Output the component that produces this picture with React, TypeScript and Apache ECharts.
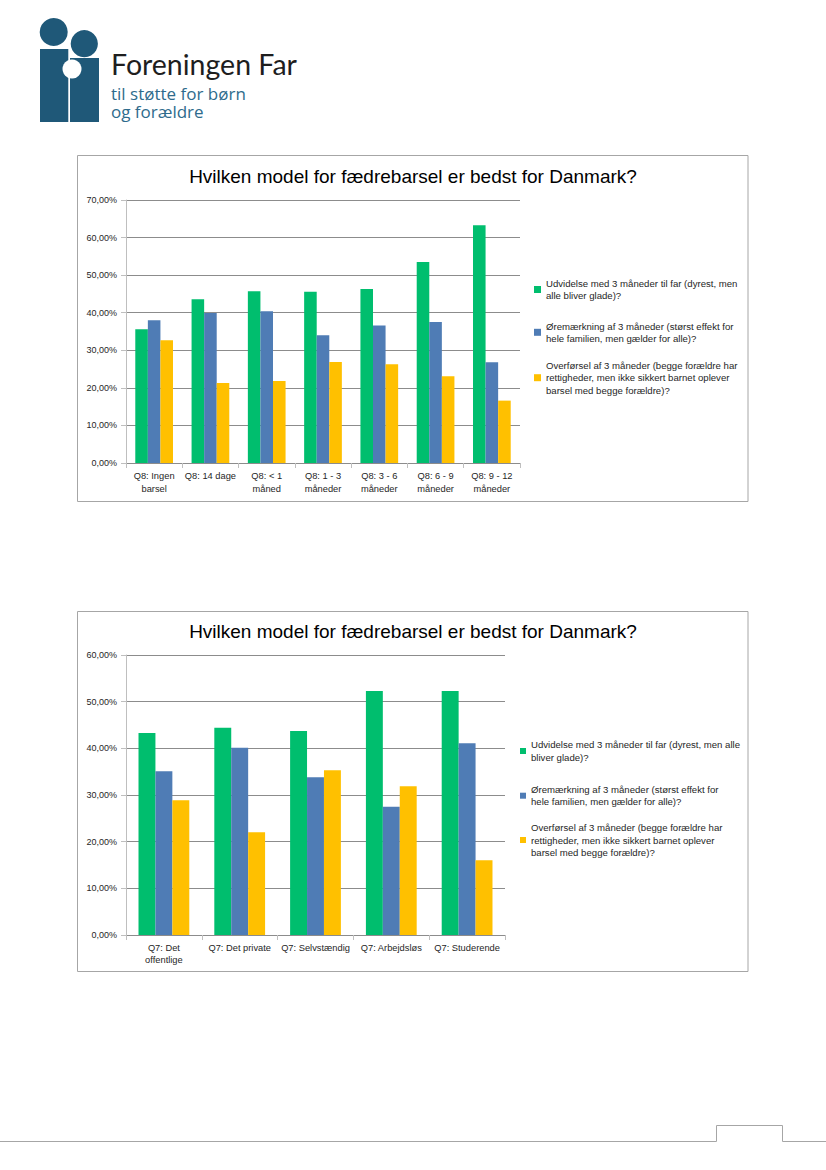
import React, { useEffect, useRef } from "react";
import * as echarts from "echarts";

const chartTitle = "Hvilken model for fædrebarsel er bedst for Danmark?";

const seriesNames = [
  "Udvidelse med 3 måneder til far (dyrest, men alle bliver glade)?",
  "Øremærkning af 3 måneder (størst effekt for hele familien, men gælder for alle)?",
  "Overførsel af 3 måneder (begge forældre har rettigheder, men ikke sikkert barnet oplever barsel med begge forældre)?",
];
const legendLines1 = [
  "Udvidelse med 3 måneder til far (dyrest, men\nalle bliver glade)?",
  "Øremærkning af 3 måneder (størst effekt for\nhele familien, men gælder for alle)?",
  "Overførsel af 3 måneder (begge forældre har\nrettigheder, men ikke sikkert barnet oplever\nbarsel med begge forældre)?",
];
const legendLines2 = [
  "Udvidelse med 3 måneder til far (dyrest, men alle\nbliver glade)?",
  "Øremærkning af 3 måneder (størst effekt for\nhele familien, men gælder for alle)?",
  "Overførsel af 3 måneder (begge forældre har\nrettigheder, men ikke sikkert barnet oplever\nbarsel med begge forældre)?",
];
const seriesColors = ["#00BE6E", "#4F7CB5", "#FFC000"];

// Chart 1: Q8
const categories1 = [
  "Q8: Ingen\nbarsel",
  "Q8: 14 dage",
  "Q8: < 1\nmåned",
  "Q8: 1 - 3\nmåneder",
  "Q8: 3 - 6\nmåneder",
  "Q8: 6 - 9\nmåneder",
  "Q8: 9 - 12\nmåneder",
];
const udvidelse1 = [35.6, 43.6, 45.7, 45.6, 46.3, 53.5, 63.3];
const oremaerkning1 = [38.0, 39.9, 40.4, 34.0, 36.6, 37.5, 26.8];
const overforsel1 = [32.7, 21.3, 21.8, 26.9, 26.3, 23.1, 16.6];
const yMax1 = 70;

// Chart 2: Q7
const categories2 = [
  "Q7: Det\noffentlige",
  "Q7: Det private",
  "Q7: Selvstændig",
  "Q7: Arbejdsløs",
  "Q7: Studerende",
];
const udvidelse2 = [43.3, 44.4, 43.7, 52.3, 52.3];
const oremaerkning2 = [35.1, 40.1, 33.8, 27.5, 41.1];
const overforsel2 = [28.9, 22.0, 35.3, 31.9, 16.0];
const yMax2 = 60;
const yStep = 10;

const logoTitle = "Foreningen Far";
const logoSub1 = "til støtte for børn";
const logoSub2 = "og forældre";

const FONT = "Liberation Sans, Arial, sans-serif";
const LOGO_FONT = "Lato, sans-serif";
const SUB_FONT = "Open Sans, sans-serif";
const LOGO_DARK = "#1F5878";
const TXT = "#262626";
const BORDER = "#A6A6A6";

function pctLabel(v: number) {
  return v.toFixed(2).replace(".", ",") + "%";
}

export default function App() {
  const ref = useRef<HTMLDivElement>(null);

  useEffect(() => {
    if (!ref.current) return;
    const chart = echarts.init(ref.current, null, { renderer: "svg" });

    const lh = 12.6;
    const legendDefs = [
      { lines: legendLines1, left: 534, firstY: [289.5, 332.3, 377.7], iw: 7 },
      { lines: legendLines2, left: 520, firstY: [751, 795.7, 840], iw: 6 },
    ];
    const legends: any[] = [];
    legendDefs.forEach((def) => {
      def.lines.forEach((txt, i) => {
        const n = txt.split("\n").length;
        legends.push({
          data: [seriesNames[i]],
          orient: "vertical",
          left: def.left,
          top: def.firstY[i] - ((2 * n - 1) * lh) / 2,
          padding: 0,
          itemWidth: def.iw,
          itemHeight: def.iw,
          icon: "rect",
          selectedMode: false,
          formatter: () => txt,
          textStyle: {
            fontFamily: FONT,
            fontSize: 9.6,
            lineHeight: lh,
            color: TXT,
            padding: [(n - 1) * lh, 0, 0, 0],
          },
        });
      });
    });

    const yAxisBase = (gridIndex: number, max: number) => ({
      type: "value",
      gridIndex,
      min: 0,
      max,
      interval: yStep,
      axisLine: { show: true, lineStyle: { color: "#BFBFBF", width: 1 } },
      axisTick: { show: true, length: 5, lineStyle: { color: "#BFBFBF" } },
      splitLine: { show: true, lineStyle: { color: "#8C8C8C", width: 1 } },
      axisLabel: {
        formatter: (v: number) => pctLabel(v),
        fontFamily: FONT,
        fontSize: 9,
        color: TXT,
        margin: 9,
      },
    });
    const xAxisBase = (gridIndex: number, data: string[], margin: number) => ({
      type: "category",
      gridIndex,
      data,
      axisLine: { show: true, lineStyle: { color: "#8C8C8C", width: 1 } },
      axisTick: { show: true, length: 5, lineStyle: { color: "#BFBFBF" } },
      axisLabel: {
        interval: 0,
        fontFamily: FONT,
        fontSize: 9.3,
        lineHeight: lh,
        color: TXT,
        margin,
      },
    });

    const barSeries = (idx: number, data: number[], axis: number) => ({
      type: "bar",
      name: seriesNames[idx],
      xAxisIndex: axis,
      yAxisIndex: axis,
      data,
      barGap: "0%",
      barCategoryGap: "33%",
      itemStyle: { color: seriesColors[idx] },
      emphasis: { disabled: true },
    });

    const option: any = {
      animation: false,
      color: seriesColors,
      title: [
        {
          text: chartTitle,
          left: 413,
          textAlign: "center",
          top: 167,
          padding: 0,
          textStyle: { fontFamily: FONT, fontSize: 19, fontWeight: "normal", color: "#000" },
        },
        {
          text: chartTitle,
          left: 413,
          textAlign: "center",
          top: 622,
          padding: 0,
          textStyle: { fontFamily: FONT, fontSize: 19, fontWeight: "normal", color: "#000" },
        },
      ],
      legend: legends,
      grid: [
        { left: 126, top: 200, width: 394, height: 263 },
        { left: 126, top: 655, width: 379, height: 280 },
      ],
      xAxis: [xAxisBase(0, categories1, 7), xAxisBase(1, categories2, 6.5)],
      yAxis: [yAxisBase(0, yMax1), yAxisBase(1, yMax2)],
      series: [
        barSeries(0, udvidelse1, 0),
        barSeries(1, oremaerkning1, 0),
        barSeries(2, overforsel1, 0),
        barSeries(0, udvidelse2, 1),
        barSeries(1, oremaerkning2, 1),
        barSeries(2, overforsel2, 1),
      ],
      graphic: [
        // chart frames
        {
          type: "rect",
          shape: { x: 77.5, y: 155.5, width: 670.5, height: 346 },
          style: { fill: "none", stroke: BORDER, lineWidth: 1 },
          silent: true,
        },
        {
          type: "rect",
          shape: { x: 77.5, y: 611.5, width: 670.5, height: 360 },
          style: { fill: "none", stroke: BORDER, lineWidth: 1 },
          silent: true,
        },
        // footer line with page tab
        {
          type: "polyline",
          shape: {
            points: [
              [0, 1141.5],
              [716.5, 1141.5],
              [716.5, 1125.5],
              [782.5, 1125.5],
              [782.5, 1141.5],
              [826, 1141.5],
            ],
          },
          style: { fill: "none", stroke: BORDER, lineWidth: 1 },
          silent: true,
        },
        // logo
        { type: "circle", shape: { cx: 53.7, cy: 32, r: 14 }, style: { fill: LOGO_DARK }, silent: true },
        { type: "circle", shape: { cx: 84.3, cy: 43.7, r: 13.6 }, style: { fill: LOGO_DARK }, silent: true },
        { type: "rect", shape: { x: 40, y: 49, width: 28.3, height: 73 }, style: { fill: LOGO_DARK }, silent: true },
        { type: "rect", shape: { x: 70, y: 58, width: 29, height: 64 }, style: { fill: LOGO_DARK }, silent: true },
        { type: "circle", shape: { cx: 72, cy: 69, r: 9.5 }, style: { fill: "#fff" }, silent: true },
        {
          type: "text",
          left: 111,
          top: 49,
          style: { text: logoTitle, fontFamily: LOGO_FONT, fontSize: 28.5, fill: "#1E1E1E" },
          silent: true,
        },
        {
          type: "text",
          left: 111,
          top: 85,
          style: { text: logoSub1, fontFamily: SUB_FONT, fontSize: 17, fill: "#2E6B8C" },
          silent: true,
        },
        {
          type: "text",
          left: 111,
          top: 102.5,
          style: { text: logoSub2, fontFamily: SUB_FONT, fontSize: 17, fill: "#2E6B8C" },
          silent: true,
        },
      ],
    };

    chart.setOption(option);
    return () => chart.dispose();
  }, []);

  return (
    <div
      ref={ref}
      style={{ position: "absolute", left: 0, top: 0, width: 826, height: 1170, background: "#fff" }}
    />
  );
}
